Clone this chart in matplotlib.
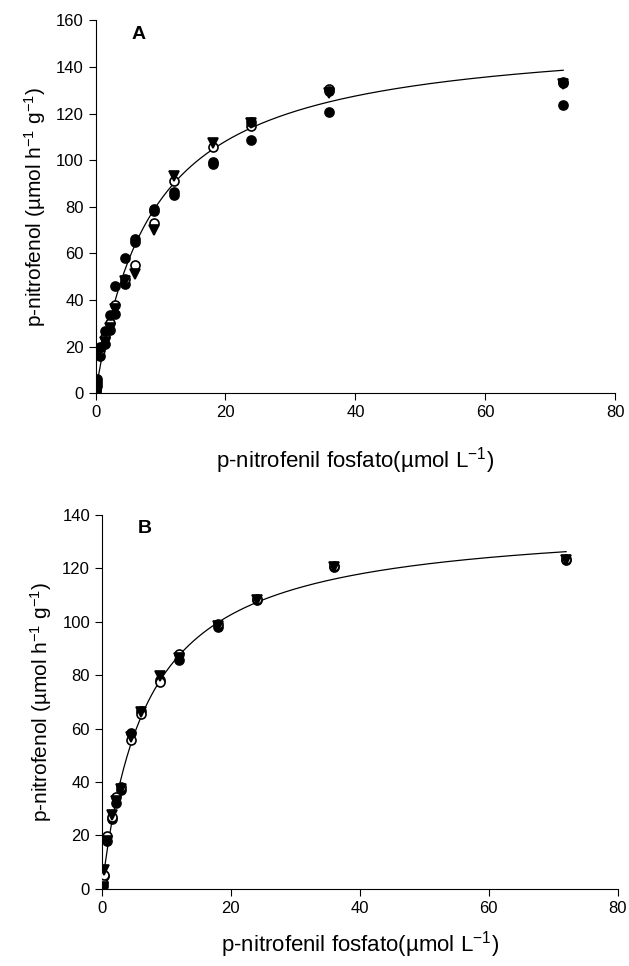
import numpy as np
import matplotlib.pyplot as plt

plt.rcParams['font.family'] = ['Liberation Sans', 'DejaVu Sans']
plt.rcParams['mathtext.default'] = 'regular'

# concentracoes de substrato (umol L-1)
conc = [0.1, 0.25, 0.75, 1.5, 2.25, 3, 4.5, 6, 9, 12, 18, 24, 36, 72]

# painel A
a_cheio1 = [0.5, 3, 16, 21, 27, 34, 47, 66, 79, 85, 98.5, 108.5, 120.7, 123.6]
a_aberto = [1.5, 5, 18.5, 24, 30, 38, 49, 55, 73, 91, 105.6, 114.5, 130.5, 133.5]
a_triang = [0, 2, 17.5, 22, 28, 36, 48, 51, 70, 93, 107.4, 116, 129, 132.5]
a_cheio2 = [2, 6, 20, 26.5, 33.5, 46, 58, 65, 78, 86.5, 99, 116.5, 129.5, 133]
a_vmax, a_km = 155.4, 8.75

# painel B
b_cheio = [1, 4.6, 17.7, 26, 32, 37, 58.3, 66.4, 78, 85.8, 98, 108, 120.6, 123]
b_aberto = [2, 5, 19.6, 27, 34.5, 38, 55.8, 65.5, 77.6, 88, 99, 108.5, 121, 123.5]
b_triang = [0.5, 7, 18, 27.5, 33, 37.5, 57, 66, 79.5, 86.5, 98.5, 108, 120.5, 123]
b_vmax, b_km = 138.5, 7.0

xlab = 'p-nitrofenil fosfato(µmol L$^{-1}$)'
ylab = 'p-nitrofenol (µmol h$^{-1}$ g$^{-1}$)'

fig = plt.figure(figsize=(6.29, 9.66), dpi=100)
axA = fig.add_axes([0.152, 0.593, 0.826, 0.386])
axB = fig.add_axes([0.162, 0.080, 0.820, 0.387])


def painel(ax, series, vmax, km, ymax, letra, pad):
    s = np.linspace(0, 72, 300)
    ax.plot(s, vmax * s / (km + s), color='black', lw=0.9, zorder=2)
    for y, mk, fc in series:
        ax.plot(conc, y, ls='none', marker=mk, ms=6.5, mfc=fc, mec='black',
                mew=1.2, zorder=3)
    ax.set_xlim(0, 80)
    ax.set_ylim(0, ymax)
    ax.set_xticks(range(0, 81, 20))
    ax.set_yticks(range(0, ymax + 1, 20))
    ax.spines['top'].set_visible(False)
    ax.spines['right'].set_visible(False)
    ax.tick_params(direction='out', length=5, labelsize=12)
    ax.set_xlabel(xlab, fontsize=16, labelpad=pad)
    ax.set_ylabel(ylab, fontsize=15, labelpad=6)
    ax.text(0.07, 0.985, letra, transform=ax.transAxes, fontsize=14,
            fontweight='bold', va='top')


painel(axA, [(a_cheio1, 'o', 'black'), (a_aberto, 'o', 'white'),
             (a_triang, 'v', 'black'), (a_cheio2, 'o', 'black')],
       a_vmax, a_km, 160, 'A', 18)
painel(axB, [(b_cheio, 'o', 'black'), (b_aberto, 'o', 'white'),
             (b_triang, 'v', 'black')],
       b_vmax, b_km, 140, 'B', 10)

fig.savefig('out.png', dpi=100)
